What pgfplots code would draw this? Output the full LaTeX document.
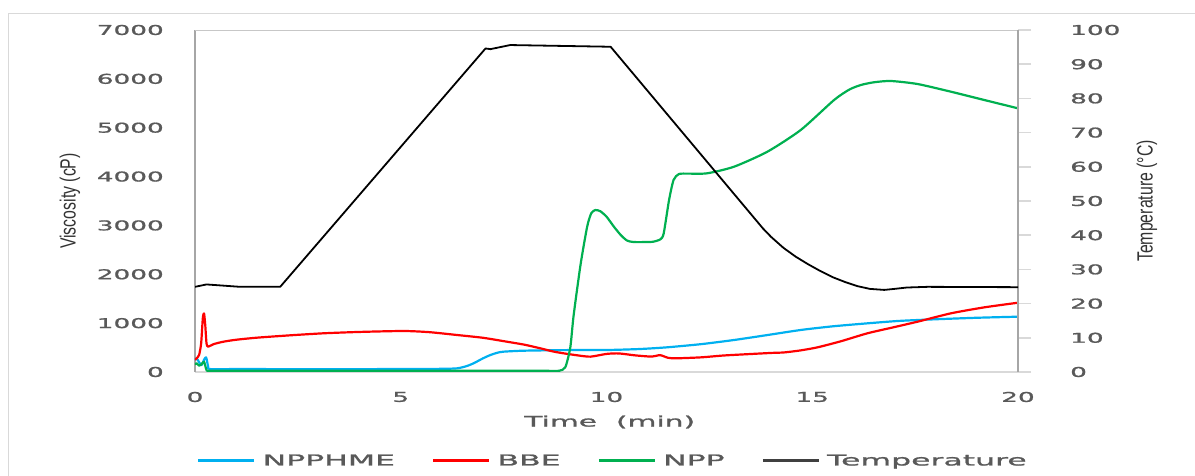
\documentclass[border=0pt]{standalone}
\usepackage{fontspec}
\setmainfont{DejaVu Sans}
\newfontfamily\tickfont[FakeStretch=1.95,FakeBold=1.2]{DejaVu Sans}
\newfontfamily\labfont[FakeStretch=2.05,FakeBold=1.4]{DejaVu Sans}
\newfontfamily\legfont[FakeStretch=2.1,FakeBold=1.4]{DejaVu Sans}
\newfontfamily\yfont[FakeStretch=0.72]{Liberation Sans}
\usepackage{pgfplots}
\usepackage{pgfplotstable}
\pgfplotsset{compat=1.18}
\definecolor{cblue}{RGB}{0,176,240}
\definecolor{cred}{RGB}{255,0,0}
\definecolor{cgreen}{RGB}{0,176,80}
\definecolor{txt}{RGB}{89,89,89}
\definecolor{axgray}{RGB}{166,166,166}
\definecolor{lightax}{RGB}{217,217,217}

\pgfplotstableread{
x y
0.00 250
0.04 280
0.10 200
0.16 143
0.22 250
0.27 300
0.32 108
0.36 60
1.0 60
2.0 59
3.0 58
4.0 59
5.0 60
6.0 65
6.37 75
6.6 120
6.77 178
7.0 280
7.18 348
7.35 395
7.50 416
7.99 436
9.0 448
10.0 450
10.8 470
11.47 505
12.3 570
13.10 655
13.9 755
14.72 860
15.5 935
16.34 996
17.1 1045
17.96 1078
19.0 1110
20.0 1132
}\npphme

\pgfplotstableread{
x y
0.00 250
0.04 280
0.10 350
0.15 590
0.19 1100
0.22 1200
0.25 950
0.28 585
0.32 518
0.45 570
0.69 620
1.0 660
1.50 702
2.3 750
3.12 792
4.0 820
5.07 839
5.7 815
6.37 757
7.0 700
7.58 620
8.0 560
8.39 485
8.7 420
8.96 382
9.3 340
9.61 314
10.0 370
10.3 380
10.7 340
11.1 315
11.3 345
11.5 290
11.7 280
12.3 300
12.8 335
13.1 350
14.0 390
14.31 400
14.7 440
15.13 505
15.7 630
16.34 792
17.0 920
17.56 1030
18.37 1201
19.18 1323
20.0 1418
}\bbe

\pgfplotstableread{
x y
0.00 150
0.04 180
0.10 130
0.16 160
0.22 210
0.28 40
0.35 25
1.0 25
2.0 25
3.0 25
4.0 25
5.0 25
6.0 25
7.0 25
8.0 25
8.5 25
8.85 25
9.00 100
9.12 500
9.20 1150
9.37 2200
9.53 2974
9.63 3250
9.73 3315
9.85 3290
10.0 3180
10.18 2974
10.35 2800
10.50 2690
10.66 2660
11.0 2660
11.14 2667
11.31 2716
11.39 2836
11.52 3520
11.63 3930
11.76 4052
12.0 4060
12.45 4067
13.10 4202
13.91 4509
14.72 4953
15.53 5567
15.9 5780
16.18 5874
16.5 5930
16.91 5956
17.56 5894
18.37 5737
19.18 5567
20.0 5397
}\npp

\pgfplotstableread{
x y
0.00 24.9
0.28 25.6
1.1 24.9
2.07 24.9
7.06 94.6
7.18 94.4
7.66 95.6
10.1 95.1
13.8 42.0
14.0 39.5
14.3 36.3
14.6 33.7
14.9 31.5
15.2 29.5
15.5 27.7
15.8 26.3
16.1 25.1
16.4 24.3
16.75 24.0
17.0 24.3
17.3 24.7
17.8 24.9
20.0 24.8
}\temp

\pgfplotsset{
  base/.style={
    scale only axis, width=823pt, height=342pt,
    at={(195pt,104pt)}, anchor=south west,
    xmin=0, xmax=20,
    /pgf/number format/assume math mode=true,
    /pgf/number format/1000 sep={},
    tick label style={font=\tickfont\fontsize{13.5pt}{16pt}\selectfont, text=txt},
  }
}

\begin{document}
\begin{tikzpicture}
\useasboundingbox (0pt,0pt) rectangle (1195pt,476pt);
\draw[lightax, line width=0.8pt] (8pt,0pt) -- (8pt,463pt) -- (1195pt,463pt);
\begin{axis}[base,
  ymin=0, ymax=7000,
  xtick={0,5,...,20}, ytick={0,1000,...,7000},
  axis x line*=bottom, axis y line*=left,
  x axis line style={-, draw=lightax, line width=1.5pt},
  y axis line style={-, draw=axgray, line width=2pt},
  xtick style={draw=none}, ytick style={draw=none},
  yticklabel style={anchor=east, inner sep=0pt, xshift=-31pt},
  xticklabel style={anchor=center, inner sep=0pt, yshift=-25pt},
  xlabel={Time\ \ (min)},
  xlabel style={at={(axis description cs:0.504,0)}, anchor=center, yshift=-50pt, font=\labfont\fontsize{14.5pt}{17pt}\selectfont, text=txt},
  ylabel={Viscosity (cP)},
  ylabel style={at={(axis description cs:-0.152,0.5)}, anchor=center, font=\yfont\fontsize{22pt}{26pt}\selectfont, text=black!80},
  legend columns=4,
  legend image code/.code={\draw[#1, line width=2.5pt] (0pt,0pt) -- (56pt,0pt);},
  legend style={at={(axis description cs:0.0024,-0.2595)}, anchor=west, draw=none, fill=none, inner sep=0pt,
    font=\legfont\fontsize{15pt}{18pt}\selectfont, text=txt, nodes={inner sep=0pt},
    /tikz/every odd column/.append style={column sep=7pt},
    /tikz/every even column/.append style={column sep=37pt}},
]
\draw[lightax!80!gray, line width=0.8pt] (rel axis cs:0,1) -- (rel axis cs:1,1);
\addplot[cblue, line width=2.2pt, line join=round, smooth, tension=0.4] table {\npphme};
\addlegendentry{NPPHME}
\addplot[cred, line width=2.2pt, line join=round, smooth, tension=0.4] table {\bbe};
\addlegendentry{BBE}
\addplot[cgreen, line width=2.2pt, line join=round, smooth, tension=0.4] table {\npp};
\addlegendentry{NPP}
\addlegendimage{black!75}
\addlegendentry{Temperature}
\end{axis}
\begin{axis}[base,
  ymin=0, ymax=100, ytick={0,10,...,100},
  axis x line=none, axis y line*=right,
  y axis line style={-, draw=axgray, line width=2pt},
  ytick style={draw=lightax, line width=1.5pt},
  tick align=outside, major tick length=13pt,
  yticklabel style={anchor=west, inner sep=0pt, xshift=39pt},
  ylabel={Temperature (\textdegree C)},
  ylabel style={at={(axis description cs:1.1567,0.5)}, anchor=center, font=\yfont\fontsize{22pt}{26pt}\selectfont, text=black!80},
]
\addplot[black, line width=1.8pt, line join=round] table {\temp};
\end{axis}
\end{tikzpicture}
\end{document}
